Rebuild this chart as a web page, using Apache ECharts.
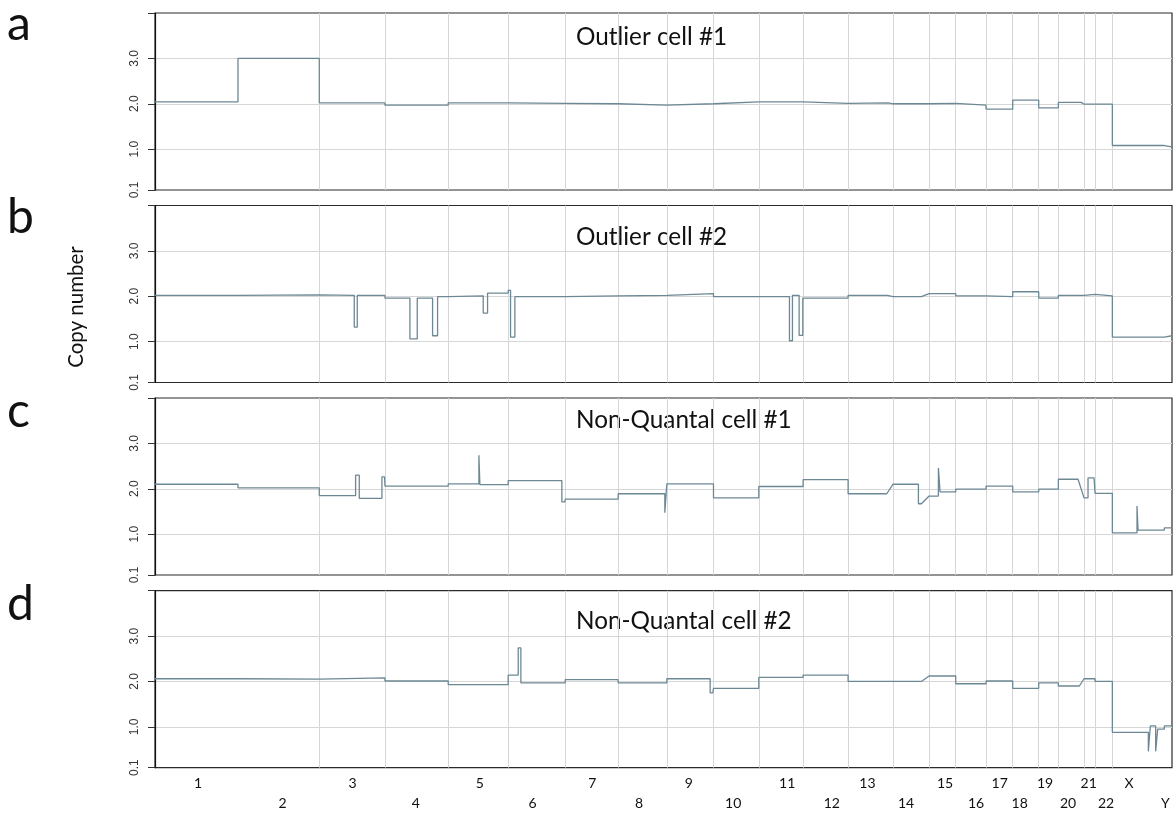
<!DOCTYPE html>
<html>
<head>
<meta charset="utf-8">
<script src="https://cdn.jsdelivr.net/npm/echarts@6/dist/echarts.min.js"></script>
<style>
  html, body { margin: 0; padding: 0; background: #fff; }
  #chart { width: 1173px; height: 814px; }
</style>
</head>
<body>
<div id="chart"></div>
<script>
// Chromosomes laid end to end along the genome axis (positions in Mb)
const chromosomes = ['1','2','3','4','5','6','7','8','9','10','11','12','13','14','15','16','17','18','19','20','21','22','X','Y'];
const chrBounds = [0, 249, 493, 690, 880, 1060, 1231, 1390, 1536, 1676, 1812, 1945, 2080, 2215, 2323, 2403, 2494, 2574, 2652, 2711, 2788, 2821, 2873, 3029, 3052];
const chrLabelPos = [129, 383, 593, 783, 975, 1133, 1312, 1453, 1602, 1735, 1897, 2031, 2138, 2254, 2371, 2464, 2535, 2595, 2671, 2740, 2802, 2854, 2923, 3032];

// Copy-number tick marks and labelled ticks
const yTicks = [0.1, 1, 2, 3, 4];
const yTickLabels = [0.1, 1, 2, 3];

const panelLetters = ['a', 'b', 'c', 'd'];
const panelTitles = ['Outlier cell #1', 'Outlier cell #2', 'Non-Quantal cell #1', 'Non-Quantal cell #2'];

// Segmented copy number per cell: [start Mb, end Mb, copy number]
const outlierCell1 = [
  [0, 249, 2.04], [249, 493, 3.0], [493, 690, 2.02], [690, 880, 1.97], [880, 1060, 2.02],
  [1060, 1231, 2.01], [1231, 1390, 2.0], [1390, 1536, 1.97], [1536, 1676, 2.0], [1676, 1812, 2.04],
  [1812, 1945, 2.04], [1945, 2080, 2.01], [2080, 2200, 2.02], [2215, 2323, 2.0], [2323, 2403, 2.01],
  [2403, 2494, 1.97], [2494, 2574, 1.88], [2574, 2652, 2.08], [2652, 2711, 1.91], [2711, 2780, 2.03],
  [2788, 2821, 1.99], [2821, 2873, 1.99], [2873, 3029, 1.08], [3029, 3052, 1.05]
];
const outlierCell2 = [
  [0, 249, 2.02], [249, 493, 2.03], [493, 598, 2.02], [598, 607, 1.32], [607, 690, 2.02],
  [690, 765, 1.96], [765, 787, 1.06], [787, 833, 1.96], [833, 848, 1.13], [848, 880, 1.99],
  [880, 985, 2.01], [985, 998, 1.63], [998, 1060, 2.07], [1060, 1067, 2.13], [1067, 1080, 1.10],
  [1080, 1231, 1.99], [1231, 1390, 2.01], [1390, 1536, 2.02], [1536, 1676, 2.06], [1676, 1812, 1.99],
  [1812, 1904, 1.99], [1904, 1913, 1.02], [1913, 1933, 2.02], [1933, 1944, 1.14], [1944, 2080, 1.96],
  [2080, 2198, 2.02], [2215, 2300, 1.99], [2323, 2403, 2.06], [2403, 2494, 2.01], [2494, 2574, 1.99],
  [2574, 2652, 2.10], [2652, 2711, 1.96], [2711, 2788, 2.02], [2788, 2821, 2.04], [2821, 2873, 2.01],
  [2873, 3029, 1.10], [3029, 3052, 1.13]
];
const nonQuantalCell1 = [
  [0, 249, 2.10], [249, 493, 2.02], [493, 602, 1.85], [602, 613, 2.30], [613, 681, 1.79],
  [681, 689, 2.26], [690, 880, 2.06], [880, 972, 2.11], [972, 975, 2.74], [975, 1060, 2.09],
  [1060, 1221, 2.18], [1221, 1230, 1.71], [1231, 1390, 1.77], [1390, 1530, 1.89], [1530, 1536, 1.47],
  [1536, 1676, 2.11], [1676, 1812, 1.80], [1812, 1945, 2.05], [1945, 2080, 2.20], [2080, 2196, 1.89],
  [2215, 2291, 2.10], [2291, 2300, 1.67], [2323, 2351, 1.84], [2351, 2356, 2.46], [2356, 2403, 1.93],
  [2403, 2494, 1.99], [2494, 2574, 2.06], [2574, 2652, 1.93], [2652, 2711, 1.99], [2711, 2770, 2.21],
  [2788, 2800, 1.80], [2800, 2818, 2.24], [2821, 2873, 1.90], [2873, 2947, 1.03], [2947, 2950, 1.62],
  [2950, 3029, 1.09], [3029, 3052, 1.14]
];
const nonQuantalCell2 = [
  [0, 249, 2.06], [249, 493, 2.05], [493, 690, 2.08], [690, 880, 2.01], [880, 1060, 1.93],
  [1060, 1090, 2.14], [1090, 1098, 2.74], [1098, 1231, 1.97], [1231, 1390, 2.04], [1390, 1536, 1.97],
  [1536, 1666, 2.06], [1666, 1674, 1.75], [1676, 1812, 1.85], [1812, 1945, 2.09], [1945, 2080, 2.14],
  [2080, 2215, 2.0], [2215, 2300, 2.0], [2323, 2403, 2.12], [2403, 2494, 1.95], [2494, 2574, 2.01],
  [2574, 2652, 1.85], [2652, 2711, 1.97], [2711, 2774, 1.90], [2788, 2821, 2.06], [2821, 2873, 2.0],
  [2873, 2981, 0.88], [2981, 2987, 0.46], [2987, 3003, 1.02], [3003, 3009, 0.46], [3009, 3029, 0.95],
  [3029, 3052, 1.02]
];
const cells = [outlierCell1, outlierCell2, nonQuantalCell1, nonQuantalCell2];

// Layout of the four stacked panels
const gridLeft = 155;
const gridWidth = 1017;
const gridTops = [13, 205.5, 398, 590.7];
const gridHeight = 177;
const titleY = [40, 240, 423, 624.5];
const letterY = [25, 218, 412, 605];

const lineColor = '#6d8895';
const gridColor = '#d6d6d6';
const textFont = 'Lato';

// Each segment becomes a flat run; consecutive runs join with a vertical step
function stepPoints(segs) {
  const pts = [];
  segs.forEach(([s, e, v]) => { pts.push([s, v]); pts.push([e, v]); });
  return pts;
}

const chart = echarts.init(document.getElementById('chart'), null, { renderer: 'canvas' });

const option = {
  animation: false,
  backgroundColor: '#ffffff',
  grid: gridTops.map(t => ({
    left: gridLeft, top: t, width: gridWidth, height: gridHeight,
    show: true, borderColor: '#2a2a2a', borderWidth: 1.2, backgroundColor: 'transparent',
    containLabel: false
  })),
  xAxis: gridTops.map((t, i) => ({
    gridIndex: i, type: 'value',
    min: chrBounds[0], max: chrBounds[chrBounds.length - 1],
    axisLine: { show: false },
    axisTick: { show: false, customValues: chrBounds.slice(1, -1) },
    splitLine: { show: true, showMinLine: false, showMaxLine: false, lineStyle: { color: gridColor, width: 1 } },
    axisLabel: i === 3 ? {
      show: true,
      customValues: chrLabelPos,
      margin: 6,
      fontFamily: textFont, fontSize: 14, color: '#111', lineHeight: 20,
      formatter: v => {
        const k = chrLabelPos.indexOf(v);
        return k % 2 === 0 ? chromosomes[k] : '\n' + chromosomes[k];
      }
    } : { show: false }
  })),
  yAxis: gridTops.map((t, i) => ({
    gridIndex: i, type: 'value', min: 0.1, max: 4,
    axisLine: { show: true, lineStyle: { color: '#111', width: 1.2 } },
    axisTick: { show: true, length: 7, customValues: yTicks, lineStyle: { color: '#333', width: 1 } },
    axisLabel: {
      customValues: yTickLabels, rotate: 90, margin: 14,
      fontFamily: 'Liberation Sans', fontSize: 12, color: '#333',
      formatter: v => v.toFixed(1)
    },
    splitLine: { show: true, showMinLine: false, showMaxLine: false, lineStyle: { color: gridColor, width: 1 } }
  })),
  series: cells.map((segs, i) => ({
    type: 'line', xAxisIndex: i, yAxisIndex: i,
    data: stepPoints(segs),
    showSymbol: false, symbol: 'none',
    lineStyle: { color: lineColor, width: 1.3 },
    silent: true
  })),
  graphic: [
    ...panelTitles.map((txt, i) => ({
      type: 'text', left: 576, top: titleY[i] - 15,
      style: { text: txt, fontFamily: textFont, fontSize: 24.3, fill: '#111' }
    })),
    ...panelLetters.map((txt, i) => ({
      type: 'text', left: 7, top: letterY[i] - 24,
      style: { text: txt, fontFamily: textFont, fontSize: 48, fill: '#111' }
    })),
    {
      type: 'text', x: 76, y: 307, rotation: Math.PI / 2,
      style: { text: 'Copy number', fontFamily: textFont, fontSize: 20.5, fill: '#111', align: 'center', verticalAlign: 'middle' }
    }
  ]
};

chart.setOption(option);
</script>
</body>
</html>
